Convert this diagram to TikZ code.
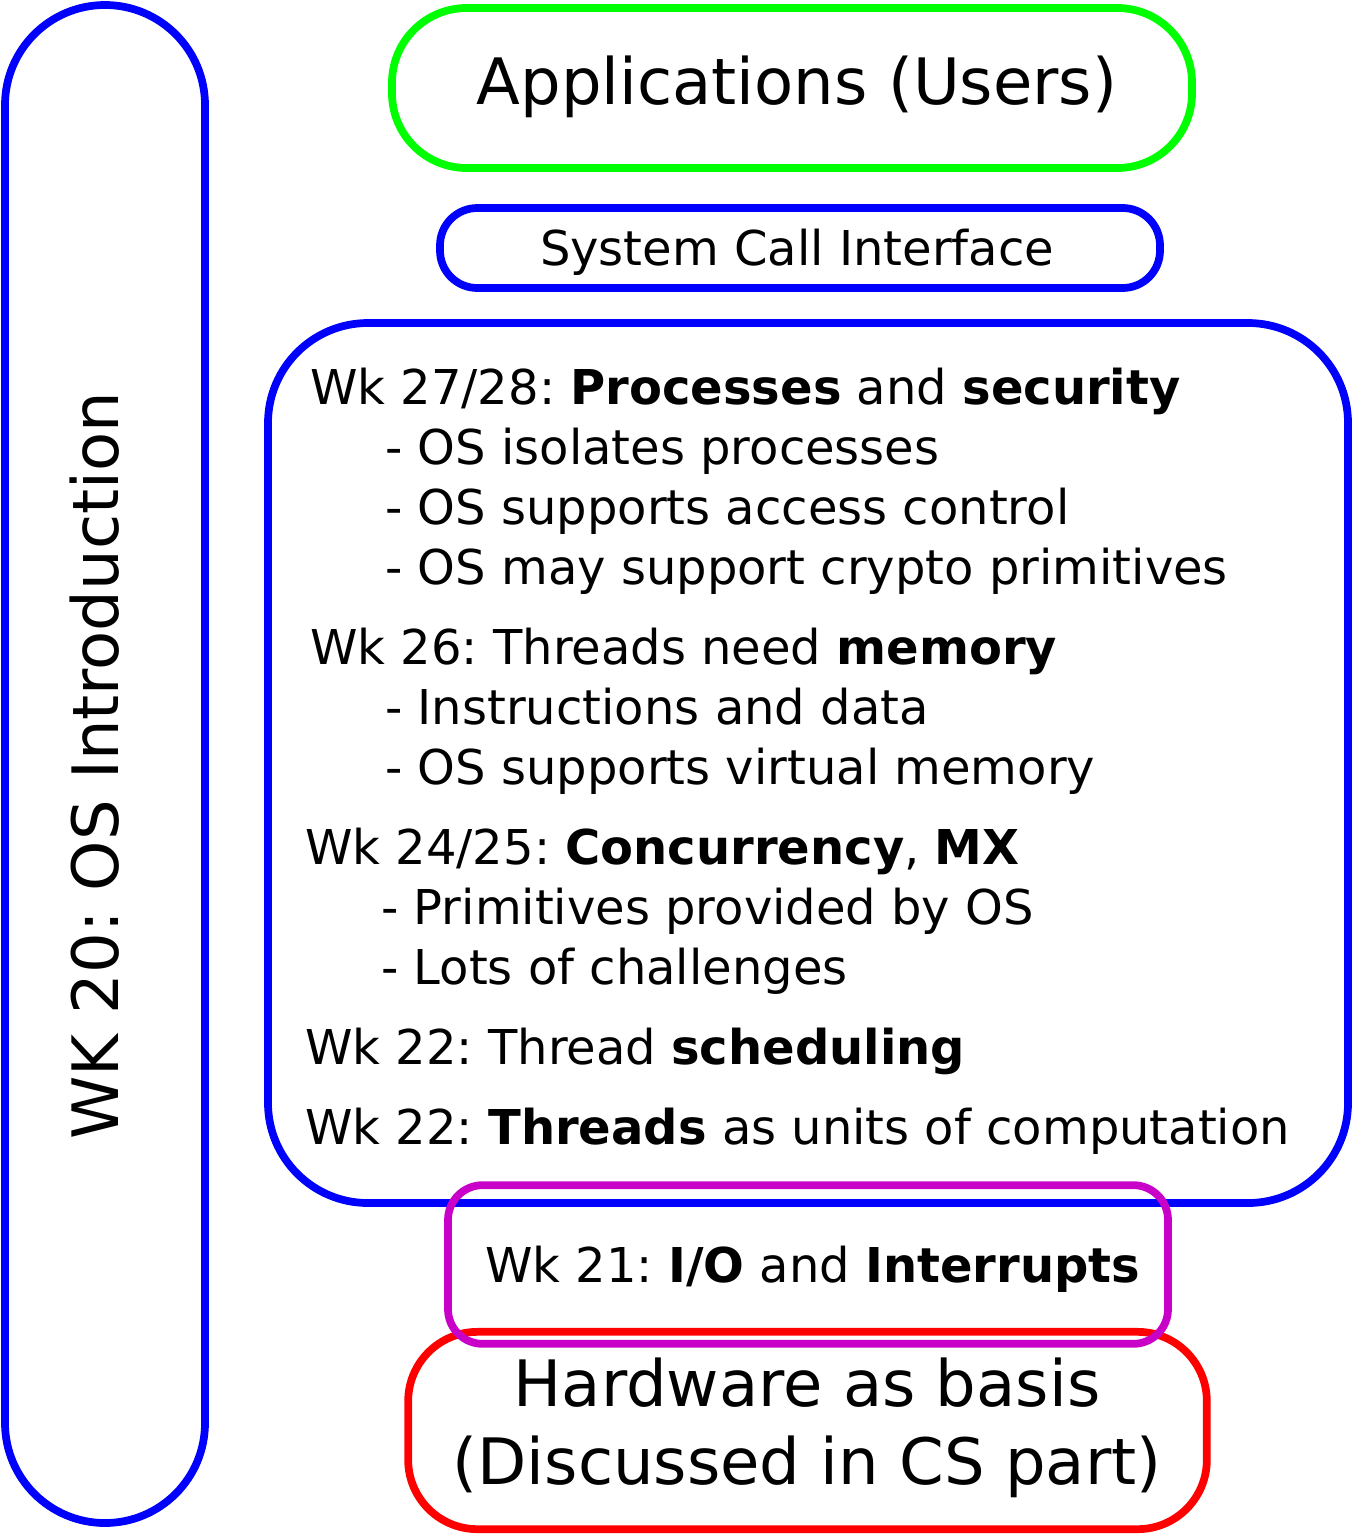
\documentclass[tikz,border=0pt]{standalone}
\usepackage{fontspec}
\setmainfont{DejaVu Sans}
\usetikzlibrary{positioning}
\definecolor{osblue}{HTML}{0000FF}
\definecolor{osgreen}{HTML}{00FF00}
\definecolor{osred}{HTML}{FF0000}
\definecolor{osmagenta}{HTML}{C800C8}
\frenchspacing
\tikzset{
    %Define style for the layer boxes
    layer/.style={
   	rectangle,
   	draw, line width=5.8pt,
   	inner sep=0pt
   },
    %Define style for the texts
    entry/.style={
   	anchor=base west,
   	inner sep=0pt,
   	font=\fontsize{36}{43}\selectfont
   },
   title/.style={
   	anchor=base,
   	inner sep=0pt,
   	font=\fontsize{48}{58}\selectfont
   }
}
\begin{document}
\begin{tikzpicture}[x=0.75pt,y=-0.75pt]
		\useasboundingbox (0,0) rectangle (1353,1535);
		% boxes
		\node[layer, draw=osblue, minimum width=150pt, minimum height=1138.5pt, rounded corners=75pt](intro) at (105,764){};
		\node[layer, draw=osgreen, minimum width=600pt, minimum height=120pt, rounded corners=56pt](apps) at (792,88){};
		\node[layer, draw=osblue, minimum width=540pt, minimum height=60pt, rounded corners=28pt](syscall) at (800,248){};
		\node[layer, draw=osblue, minimum width=810pt, minimum height=660pt, rounded corners=75pt](kernel) at (808,763){};
		\node[layer, draw=osred, minimum width=599pt, minimum height=148pt, rounded corners=52pt](hw) at (807.5,1430.5){};
		\node[layer, draw=osmagenta, minimum width=540pt, minimum height=119pt, rounded corners=26pt](io) at (808,1264.5){};
		% texts
		\node[title, rotate=90](introtext) at (118,766){WK 20: OS Introduction};
		\node[title](appstext) at (797,104){Applications (Users)};
		\node[entry, anchor=base](syscalltext) at (797,265){System Call Interface};
		\node[entry](wk27) at (310,404){Wk 27/28: \textbf{Processes} and \textbf{security}};
		\node[entry](wk27a) at (385,464){- OS isolates processes};
		\node[entry](wk27b) at (385,524){- OS supports access control};
		\node[entry](wk27c) at (385,584){- OS may support crypto primitives};
		\node[entry](wk26) at (310,664){Wk 26: Threads need \textbf{memory}};
		\node[entry](wk26a) at (385,724){- Instructions and data};
		\node[entry](wk26b) at (385,784){- OS supports virtual memory};
		\node[entry](wk24) at (305,864){Wk 24/25: \textbf{Concurrency}, \textbf{MX}};
		\node[entry](wk24a) at (381,924){- Primitives provided by OS};
		\node[entry](wk24b) at (381,984){- Lots of challenges};
		\node[entry](wk22a) at (305,1064){Wk 22: Thread \textbf{scheduling}};
		\node[entry](wk22b) at (305,1144){Wk 22: \textbf{Threads} as units of computation};
		\node[entry](wk21) at (485,1282){Wk 21: \textbf{I/O} and \textbf{Interrupts}};
		\node[title](hwtext) at (807,1406){Hardware as basis};
		\node[title](hwtextb) at (807,1484){(Discussed in CS part)};
\end{tikzpicture}
\end{document}
